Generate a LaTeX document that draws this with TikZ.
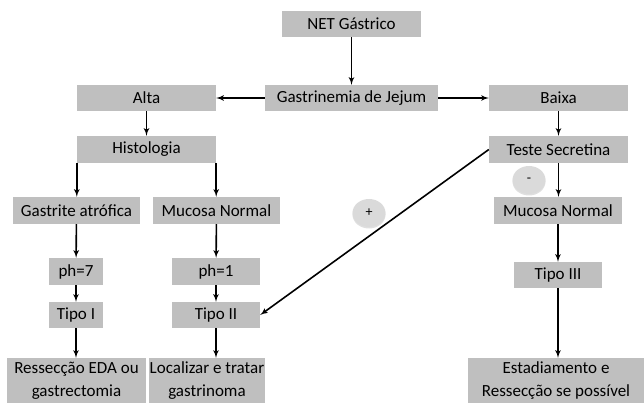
\documentclass[tikz,border=0pt]{standalone}
\usepackage{fontspec}
\setmainfont{Carlito}
\usepackage{tikz}
\usetikzlibrary{arrows,positioning,calc,shapes.geometric,shadows}
\definecolor{boxgray}{RGB}{191,191,191}
\definecolor{signgray}{RGB}{218,218,218}
\tikzstyle{block} = [rectangle, fill=boxgray, inner sep=0pt, align=center, font=\fontsize{17}{23}\selectfont]
\tikzstyle{line} = [draw, -latex', line width=1.6pt]
\tikzstyle{sign} = [ellipse, fill=signgray, minimum width=33pt, minimum height=28pt, inner sep=0pt, font=\fontsize{14}{14}\selectfont,
                    drop shadow={opacity=0.25, shadow xshift=0pt, shadow yshift=-1.5pt}]

\begin{document}
\begin{tikzpicture}[x=1pt, y=-1pt]
    \useasboundingbox (0,0) rectangle (644,403);
    % Blocks
    \node [block, minimum width=139pt, minimum height=26pt] (net) at (351.5,24) {NET Gástrico};
    \node [block, minimum width=173pt, minimum height=26pt] (gastrin) at (351.5,98) {Gastrinemia de Jejum};
    \node [block, minimum width=139pt, minimum height=26pt] (alta) at (146.5,98) {Alta};
    \node [block, minimum width=139pt, minimum height=26pt] (baixa) at (558.5,98) {Baixa};
    \node [block, minimum width=139pt, minimum height=27pt] (histo) at (146.5,149.5) {Histologia};
    \node [block, minimum width=139pt, minimum height=27pt] (teste) at (558.5,149.5) {Teste Secretina};
    \node [block, minimum width=127pt, minimum height=27pt] (gastrite) at (76.5,210.5) {Gastrite atrófica};
    \node [block, minimum width=127pt, minimum height=27pt] (mucosaL) at (216.5,210.5) {Mucosa Normal};
    \node [block, minimum width=128pt, minimum height=27pt] (mucosaR) at (558,210.5) {Mucosa Normal};
    \node [block, minimum width=54pt, minimum height=27pt] (ph7) at (76,271.5) {ph=7};
    \node [block, minimum width=88pt, minimum height=27pt] (ph1) at (216,271.5) {ph=1};
    \node [block, minimum width=54pt, minimum height=26pt] (tipoI) at (76,315) {Tipo I};
    \node [block, minimum width=88pt, minimum height=26pt] (tipoII) at (216,315) {Tipo II};
    \node [block, minimum width=88pt, minimum height=26pt] (tipoIII) at (558,275) {Tipo III};
    \node [block, minimum width=139pt, minimum height=45pt] (ressec) at (76.5,380.5) {Ressecção EDA ou\\gastrectomia};
    \node [block, minimum width=116pt, minimum height=45pt] (local) at (207,380.5) {Localizar e tratar\\gastrinoma};
    \node [block, minimum width=176pt, minimum height=45pt] (estad) at (556,380.5) {Estadiamento e\\Ressecção se possível};
    % Signs
    \node [sign] (pos) at (369,213) {+};
    \node [sign] (neg) at (529,180) {-};
    % Lines
    \path [line] (net) -- (gastrin);
    \path [line] (gastrin) -- (alta);
    \path [line] (gastrin) -- (baixa);
    \path [line] (alta) -- (histo);
    \path [line] (baixa) -- (teste);
    \path [line] (histo.south west) -- (histo.south west |- gastrite.north);
    \path [line] (histo.south east) -- (histo.south east |- mucosaL.north);
    \path [line] (gastrite) -- (ph7);
    \path [line] (mucosaL) -- (ph1);
    \path [line] (ph7) -- (tipoI);
    \path [line] (ph1) -- (tipoII);
    \path [line] (tipoI) -- (tipoI.south |- ressec.north);
    \path [line] (tipoII) -- (tipoII.south |- local.north);
    \path [line] (teste) -- (teste.south |- mucosaR.north);
    \path [line] (mucosaR) -- (tipoIII);
    \path [line] (tipoIII) -- (tipoIII.south |- estad.north);
    \path [line] (teste.west) -- (tipoII.east);
\end{tikzpicture}
\end{document}
